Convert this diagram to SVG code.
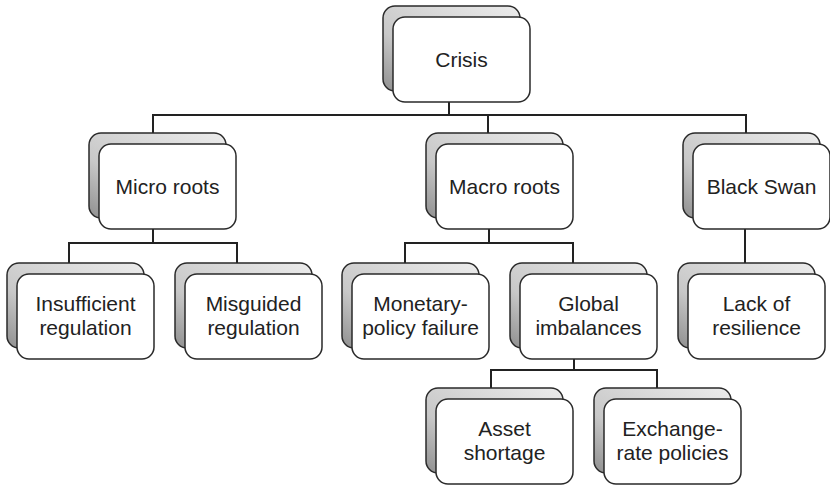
<svg xmlns="http://www.w3.org/2000/svg" width="830" height="486" viewBox="0 0 830 486">
<defs>
<linearGradient id="g" x1="0" y1="1" x2="1" y2="0">
<stop offset="0" stop-color="#8f8f8f"/>
<stop offset="0.35" stop-color="#c8c8c8"/>
<stop offset="1" stop-color="#ececec"/>
</linearGradient>
<style>
.back{fill:url(#g);stroke:#2a2a2a;stroke-width:1.5}
.front{fill:#fff;stroke:#2a2a2a;stroke-width:1.5}
.t{font-family:"Liberation Sans",Arial,sans-serif;font-size:21px;fill:#222;text-anchor:middle}
.c{fill:none;stroke:#222;stroke-width:2}
</style>
<symbol id="card" overflow="visible">
<rect class="back" x="-10" y="-11" width="137" height="85" rx="12"/>
<rect class="front" x="0" y="0" width="137" height="85" rx="12"/>
</symbol>
</defs>
<g id="connectors">
<path class="c" d="M449 102V115M153 133V115H746V133M488 115V133"/>
<path class="c" d="M153 229V243M69 263V243H237V263"/>
<path class="c" d="M489 229V243M405 263V243H573V263"/>
<path class="c" d="M745 229V263"/>
<path class="c" d="M574 359V370M491 389V370H657V389"/>
</g>
<g id="crisis"><use href="#card" x="393" y="17"/><text class="t" x="461.5" y="67">Crisis</text></g>
<g id="micro"><use href="#card" x="99" y="144"/><text class="t" x="167.5" y="194">Micro roots</text></g>
<g id="macro"><use href="#card" x="436" y="144"/><text class="t" x="504.5" y="194">Macro roots</text></g>
<g id="blackswan"><use href="#card" x="693" y="144"/><text class="t" x="761.5" y="194">Black Swan</text></g>
<g id="insufficient"><use href="#card" x="17" y="274"/><text class="t" x="85.5" y="311">Insufficient</text><text class="t" x="85.5" y="335">regulation</text></g>
<g id="misguided"><use href="#card" x="185" y="274"/><text class="t" x="253.5" y="311">Misguided</text><text class="t" x="253.5" y="335">regulation</text></g>
<g id="monetary"><use href="#card" x="352" y="274"/><text class="t" x="420.5" y="311">Monetary-</text><text class="t" x="420.5" y="335">policy failure</text></g>
<g id="global"><use href="#card" x="520" y="274"/><text class="t" x="588.5" y="311">Global</text><text class="t" x="588.5" y="335">imbalances</text></g>
<g id="lack"><use href="#card" x="688" y="274"/><text class="t" x="756.5" y="311">Lack of</text><text class="t" x="756.5" y="335">resilience</text></g>
<g id="asset"><use href="#card" x="436" y="399"/><text class="t" x="504.5" y="436">Asset</text><text class="t" x="504.5" y="460">shortage</text></g>
<g id="exchange"><use href="#card" x="604" y="399"/><text class="t" x="672.5" y="436">Exchange-</text><text class="t" x="672.5" y="460">rate policies</text></g>
</svg>
